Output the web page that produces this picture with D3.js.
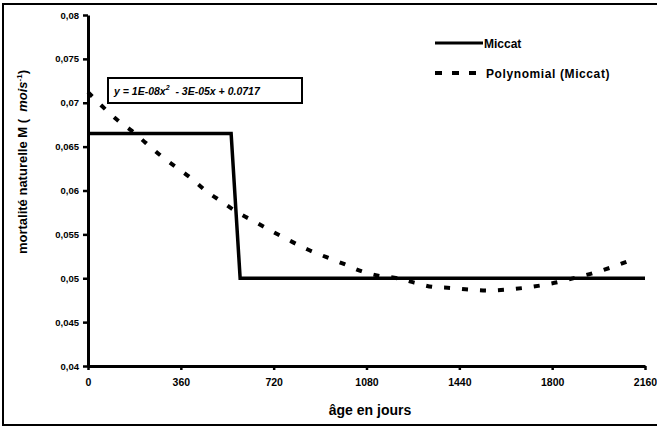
<!DOCTYPE html>
<html>
<head>
<meta charset="utf-8">
<script src="https://cdn.jsdelivr.net/npm/d3@7"></script>
<style>
  body { margin: 0; background: #fff; }
  svg { display: block; font-family: "Liberation Sans", Arial, sans-serif; }
</style>
</head>
<body>
<svg id="chart" width="657" height="428"></svg>
<script>
// step values of M (Miccat)
var miccatAge = [0, 555, 590, 2160];
var miccatM = [0.0665, 0.0665, 0.05, 0.05];

// polynomial trend
var trendAge = [0, 55, 115, 170, 225, 285, 345, 400, 460, 520, 580, 650, 710, 775, 850, 925, 995, 1060,
  1125, 1200, 1265, 1340, 1405, 1480, 1550, 1620, 1690, 1760, 1830, 1895, 1960, 2035, 2100];
var trendM = [0.0712, 0.0696, 0.0680, 0.0668, 0.0654, 0.0639, 0.0626, 0.0614, 0.0599, 0.0587, 0.0575,
  0.0564, 0.0554, 0.0544, 0.0533, 0.0524, 0.0516, 0.0508, 0.0503, 0.0500, 0.0495, 0.0490, 0.0489,
  0.0487, 0.0486, 0.0487, 0.0489, 0.0492, 0.0496, 0.0501, 0.0506, 0.0513, 0.0520];

var xTicks = [0, 360, 720, 1080, 1440, 1800, 2160];
var yTicks = [0.04, 0.045, 0.05, 0.055, 0.06, 0.065, 0.07, 0.075, 0.08];
var yLabels = ['0,04', '0,045', '0,05', '0,055', '0,06', '0,065', '0,07', '0,075', '0,08'];

var svg = d3.select('#chart');

// outer frame
svg.append('rect')
  .attr('x', 3).attr('y', 4)
  .attr('width', 662).attr('height', 421)
  .attr('fill', 'none')
  .attr('stroke', '#000')
  .attr('stroke-width', 2);

var xScale = d3.scaleLinear().domain([0, 2160]).range([88, 645]);
var yScale = d3.scaleLinear().domain([0.04, 0.08]).range([366, 15]);

// axes
var xAxis = svg.append('g')
  .attr('transform', 'translate(0,366)')
  .call(d3.axisBottom(xScale).tickValues(xTicks).tickSize(4).tickPadding(9).tickSizeOuter(0)
    .tickFormat(d3.format('d')));
var yAxis = svg.append('g')
  .attr('transform', 'translate(88,0)')
  .call(d3.axisLeft(yScale).tickValues(yTicks).tickSize(5).tickPadding(4).tickSizeOuter(0)
    .tickFormat(function(d, i) { return yLabels[i]; }));

[xAxis, yAxis].forEach(function(a) {
  a.select('.domain').attr('stroke', '#000').attr('stroke-width', 3);
  a.selectAll('.tick line').attr('stroke', '#000').attr('stroke-width', 2.5);
  a.selectAll('.tick text')
    .attr('fill', '#000')
    .style('font-size', '10.5px')
    .style('font-weight', 'bold');
});
yAxis.selectAll('.tick text').style('font-size', '9.5px');

// Miccat step line
var miccatPts = miccatAge.map(function(d, i) { return [d, miccatM[i]]; });
var line = d3.line()
  .x(function(d) { return xScale(d[0]); })
  .y(function(d) { return yScale(d[1]); });

svg.append('path')
  .datum(miccatPts)
  .attr('d', line)
  .attr('fill', 'none')
  .attr('stroke', '#000')
  .attr('stroke-width', 3.5);

// polynomial trend
var trendPts = trendAge.map(function(d, i) { return [d, trendM[i]]; });
svg.append('path')
  .datum(trendPts)
  .attr('d', line.curve(d3.curveMonotoneX))
  .attr('fill', 'none')
  .attr('stroke', '#000')
  .attr('stroke-width', 4)
  .attr('stroke-dasharray', '6,12');

// equation box
var eq = svg.append('g').attr('transform', 'translate(108,78)');
eq.append('rect')
  .attr('width', 194).attr('height', 25)
  .attr('fill', '#fff')
  .attr('stroke', '#000')
  .attr('stroke-width', 2);
var eqText = eq.append('text')
  .attr('x', 6).attr('y', 16.5)
  .style('font-size', '10.5px')
  .style('font-weight', 'bold')
  .style('font-style', 'italic');
eqText.append('tspan').text('y = 1E-08x');
eqText.append('tspan').attr('dy', -5).style('font-size', '7px').text('2');
eqText.append('tspan').attr('dy', 5).text('  - 3E-05x + 0.0717');
eqText.attr('xml:space', 'preserve');

// legend
var legend = svg.append('g');
legend.append('line')
  .attr('x1', 435).attr('x2', 483).attr('y1', 43).attr('y2', 43)
  .attr('stroke', '#000').attr('stroke-width', 3);
legend.append('text')
  .attr('x', 484).attr('y', 47.5)
  .style('font-size', '12px').style('font-weight', 'bold')
  .text('Miccat');
legend.append('line')
  .attr('x1', 435).attr('x2', 483).attr('y1', 73).attr('y2', 73)
  .attr('stroke', '#000').attr('stroke-width', 4)
  .attr('stroke-dasharray', '7,10');
legend.append('text')
  .attr('x', 486).attr('y', 77.5)
  .style('font-size', '12px').style('font-weight', 'bold')
  .style('letter-spacing', '0.6px')
  .text('Polynomial (Miccat)');

// axis titles
svg.append('text')
  .attr('x', 370).attr('y', 415)
  .attr('text-anchor', 'middle')
  .style('font-size', '14px').style('font-weight', 'bold')
  .text('âge en jours');

var yTitle = svg.append('text')
  .attr('transform', 'translate(27,162) rotate(-90)')
  .attr('text-anchor', 'middle')
  .style('font-size', '13px').style('font-weight', 'bold');
yTitle.append('tspan').text('mortalité naturelle M (  ');
yTitle.append('tspan').style('font-style', 'italic').text('mois');
yTitle.append('tspan').attr('dy', -5).style('font-size', '8px').text('-1');
yTitle.append('tspan').attr('dy', 5).text(')');
yTitle.attr('xml:space', 'preserve');
</script>
</body>
</html>
